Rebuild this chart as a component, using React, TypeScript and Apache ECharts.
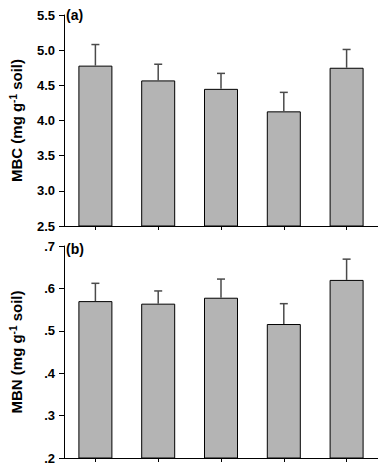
import React, { useEffect, useRef } from "react";
import * as echarts from "echarts";

const categories = ["T1", "T2", "T3", "T4", "T5"];
const mbcValues = [4.78, 4.57, 4.45, 4.13, 4.75];
const mbcErrors = [0.3, 0.23, 0.22, 0.27, 0.26];
const mbnValues = [0.57, 0.564, 0.578, 0.516, 0.62];
const mbnErrors = [0.042, 0.03, 0.044, 0.048, 0.049];

const FONT = "Liberation Sans, Arial, sans-serif";

function errRender(params: any, api: any) {
  const x = api.value(0);
  const y = api.value(1);
  const e = api.value(2);
  const p0 = api.coord([x, y]);
  const p1 = api.coord([x, y + e]);
  const style = { stroke: "#4a4a4a", lineWidth: 1.5 };
  return {
    type: "group",
    children: [
      { type: "line", shape: { x1: p0[0], y1: p0[1], x2: p1[0], y2: p1[1] }, style },
      { type: "line", shape: { x1: p1[0] - 4, y1: p1[1], x2: p1[0] + 4, y2: p1[1] }, style },
    ],
  };
}

export default function App() {
  const ref = useRef<HTMLDivElement>(null);
  useEffect(() => {
    if (!ref.current) return;
    const chart = echarts.init(ref.current, undefined, { renderer: "svg" });
    const axisLine = { show: true, lineStyle: { color: "#000", width: 1 } };
    const yLabel = { color: "#000", fontWeight: "bold" as const, fontSize: 13, fontFamily: FONT, margin: 9 };
    const nameStyle = {
      color: "#000",
      fontWeight: "bold" as const,
      fontSize: 15,
      fontFamily: FONT,
      rich: {
        sup: { fontSize: 10, fontWeight: "bold", fontFamily: FONT, color: "#000", verticalAlign: "top", padding: [0, 0, 7, 0] },
      },
    };
    const xAxisBase = {
      type: "category" as const,
      data: categories,
      axisLine,
      axisTick: { show: true, alignWithLabel: true, length: 4, lineStyle: { color: "#000" } },
      axisLabel: { show: false },
      splitLine: { show: false },
    };
    chart.setOption({
      animation: false,
      backgroundColor: "#fff",
      grid: [
        { left: 53, top: 15, right: -8, height: 211 },
        { left: 53, top: 246, right: -8, height: 212 },
      ],
      xAxis: [
        { ...xAxisBase, gridIndex: 0 },
        { ...xAxisBase, gridIndex: 1 },
      ],
      yAxis: [
        {
          type: "value",
          gridIndex: 0,
          min: 2.5,
          max: 5.5,
          interval: 0.5,
          axisLine,
          axisTick: { show: true, length: 5, lineStyle: { color: "#000" } },
          splitLine: { show: false },
          axisLabel: { ...yLabel, formatter: (v: number) => v.toFixed(1) },
          name: "MBC (mg g{sup|-1} soil)",
          nameLocation: "middle",
          nameGap: 39,
          nameTextStyle: nameStyle,
        },
        {
          type: "value",
          gridIndex: 1,
          min: 0.2,
          max: 0.7,
          interval: 0.1,
          axisLine,
          axisTick: { show: true, length: 5, lineStyle: { color: "#000" } },
          splitLine: { show: false },
          axisLabel: { ...yLabel, formatter: (v: number) => v.toFixed(1).replace(/^0/, "") },
          name: "MBN (mg g{sup|-1} soil)",
          nameLocation: "middle",
          nameGap: 39,
          nameTextStyle: nameStyle,
        },
      ],
      graphic: [
        { type: "text", left: 66, top: 8, style: { text: "(a)", font: `bold 14px ${FONT}`, fill: "#000" } },
        { type: "text", left: 66, top: 242, style: { text: "(b)", font: `bold 14px ${FONT}`, fill: "#000" } },
      ],
      series: [
        {
          type: "bar",
          xAxisIndex: 0,
          yAxisIndex: 0,
          data: mbcValues,
          barWidth: 34,
          itemStyle: { color: "#b4b4b4", borderColor: "#000", borderWidth: 1 },
        },
        {
          type: "custom",
          xAxisIndex: 0,
          yAxisIndex: 0,
          renderItem: errRender,
          data: mbcValues.map((v, i) => [i, v, mbcErrors[i]]),
          z: 5,
        },
        {
          type: "bar",
          xAxisIndex: 1,
          yAxisIndex: 1,
          data: mbnValues,
          barWidth: 34,
          itemStyle: { color: "#b4b4b4", borderColor: "#000", borderWidth: 1 },
        },
        {
          type: "custom",
          xAxisIndex: 1,
          yAxisIndex: 1,
          renderItem: errRender,
          data: mbnValues.map((v, i) => [i, v, mbnErrors[i]]),
          z: 5,
        },
      ],
    });
    return () => chart.dispose();
  }, []);
  return <div ref={ref} style={{ position: "absolute", left: 0, top: 0, width: 378, height: 466 }} />;
}
